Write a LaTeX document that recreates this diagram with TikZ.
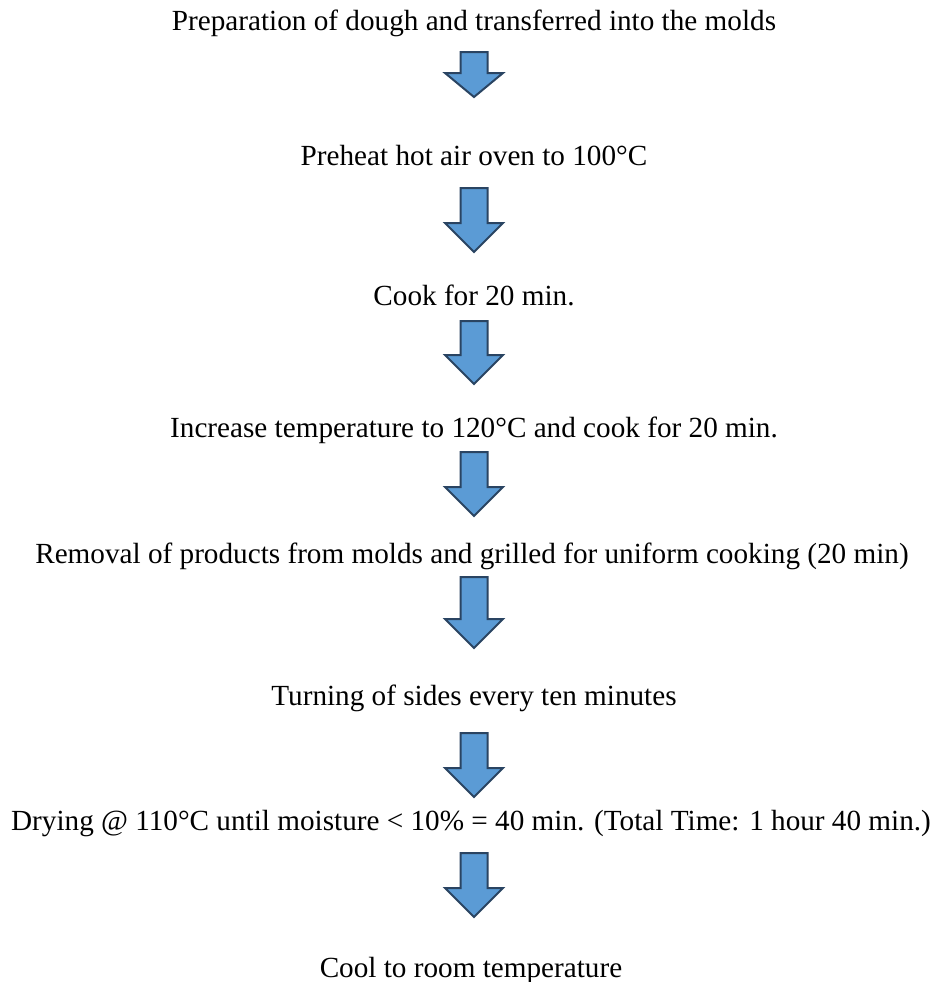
\documentclass[tikz,border=0pt]{standalone}
\usepackage{fontspec}
\setmainfont{Liberation Serif}
\usepackage{tikz}
\usetikzlibrary{positioning}

\definecolor{arrowfill}{RGB}{91,155,213}
\definecolor{arrowline}{RGB}{42,68,98}

\tikzset{
  stage/.style={anchor=base, inner sep=0pt, font=\fontsize{21.9}{26}\selectfont},
  blockarrow/.style={fill=arrowfill, draw=arrowline, line width=1.5pt, line join=miter}
}

% [#1] = head length, #2 = top of the arrow, #3 = its length
\newcommand{\flowarrow}[3][29]{%
  \draw[blockarrow] (460.5,#2) -- ++(27,0) -- ++(0,{#3-#1}) -- ++(15.5,0)
    -- ++(-29,#1) -- ++(-29,-#1) -- ++(15.5,0) -- cycle;}

\begin{document}
\begin{tikzpicture}[x=0.75pt, y=-0.75pt]
\useasboundingbox (0,0) rectangle (941,982);

\node[stage] (s1) at (474,30)  {Preparation of dough and transferred into the molds};
\node[stage] (s2) at (474,165) {Preheat hot air oven to 100°C};
\node[stage] (s3) at (474,305) {Cook for 20 min.};
\node[stage] (s4) at (474,437) {Increase temperature to 120°C and cook for 20 min.};
\node[stage] (s5) at (472,563) {Removal of products from molds and grilled for uniform cooking (20 min)};
\node[stage] (s6) at (474,705) {Turning of sides every ten minutes};
\node[stage] (s7) at (471,830) {Drying @ 110°C until moisture < 10\% = 40 min. (Total Time: 1 hour 40 min.)};
\node[stage] (s8) at (471,977) {Cool to room temperature};

\flowarrow[24]{52}{45}
\flowarrow{188}{64}
\flowarrow{321}{63}
\flowarrow{452}{64}
\flowarrow{577}{71}
\flowarrow{733}{64}
\flowarrow{853}{64}
\end{tikzpicture}
\end{document}
